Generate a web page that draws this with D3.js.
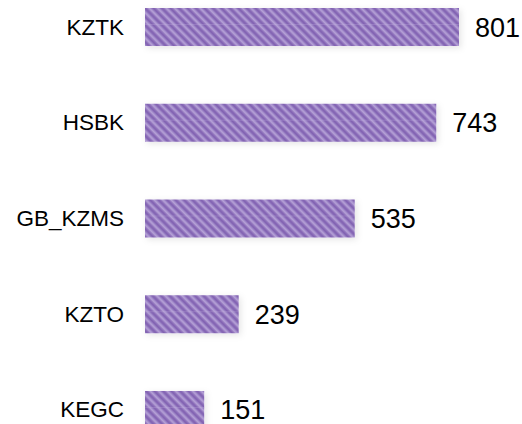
<!DOCTYPE html>
<html>
<head>
<meta charset="utf-8">
<script src="https://cdn.jsdelivr.net/npm/d3@7"></script>
<style>
  body { margin: 0; background: #fff; }
  svg { display: block; font-family: "Liberation Sans", Arial, sans-serif; }
</style>
</head>
<body>
<svg></svg>
<script>
let tickers = ["KZTK", "HSBK", "GB_KZMS", "KZTO", "KEGC"]
let values = [801, 743, 535, 239, 151]

let width = 522
let height = 424

let svg = d3.select("svg")
  .attr("width", width)
  .attr("height", height)

let defs = svg.append("defs")

// striped fill like the texture in the picture
let grad = defs.append("linearGradient")
  .attr("id", "stripeGrad")
  .attr("x1", 0).attr("x2", 1).attr("y1", 0).attr("y2", 0)
grad.selectAll("stop")
  .data([[0, "#7f5fb0"], [0.3, "#8a6cb8"], [0.6, "#b7a3d7"], [0.85, "#a089c9"], [1, "#7f5fb0"]])
  .enter()
  .append("stop")
  .attr("offset", d => d[0])
  .attr("stop-color", d => d[1])

let pat = defs.append("pattern")
  .attr("id", "stripes")
  .attr("patternUnits", "userSpaceOnUse")
  .attr("width", 6)
  .attr("height", 10)
  .attr("patternTransform", "rotate(-45)")
pat.append("rect")
  .attr("width", 6)
  .attr("height", 10)
  .attr("fill", "url(#stripeGrad)")

let shadow = defs.append("filter")
  .attr("id", "shadow")
  .attr("x", "-10%").attr("y", "-30%")
  .attr("width", "130%").attr("height", "170%")
shadow.append("feDropShadow")
  .attr("dx", 2).attr("dy", 2)
  .attr("stdDeviation", 3)
  .attr("flood-color", "#000")
  .attr("flood-opacity", 0.1)

let xScale = d3.scaleLinear()
  .domain([0, d3.max(values)])
  .range([145, 459])

let yScale = d3.scaleBand()
  .domain(tickers)
  .range([8, 429])
  .paddingInner(0.603)
  .paddingOuter(0)

let rows = svg.selectAll("g.row")
  .data(tickers.map((t, i) => ({ name: t, value: values[i] })))
  .enter()
  .append("g")
  .attr("class", "row")

rows.append("rect")
  .attr("x", xScale(0))
  .attr("y", d => yScale(d.name))
  .attr("width", d => xScale(d.value) - xScale(0))
  .attr("height", yScale.bandwidth())
  .attr("fill", "url(#stripes)")
  .attr("filter", "url(#shadow)")

// faint seam in the texture
rows.append("line")
  .attr("x1", xScale(0))
  .attr("x2", d => xScale(d.value))
  .attr("y1", d => yScale(d.name) + 16.5)
  .attr("y2", d => yScale(d.name) + 16.5)
  .attr("stroke", "#c9b9e2")
  .attr("stroke-opacity", 0.25)
  .attr("stroke-width", 1)

rows.append("text")
  .attr("x", 124)
  .attr("y", d => yScale(d.name) + yScale.bandwidth() / 2 + 7.5)
  .attr("text-anchor", "end")
  .attr("font-size", 22.5)
  .attr("fill", "#000")
  .text(d => d.name)

rows.append("text")
  .attr("x", d => xScale(d.value) + 16)
  .attr("y", d => yScale(d.name) + yScale.bandwidth() / 2 + 9.5)
  .attr("font-size", 27)
  .attr("fill", "#000")
  .text(d => d.value)
</script>
</body>
</html>
